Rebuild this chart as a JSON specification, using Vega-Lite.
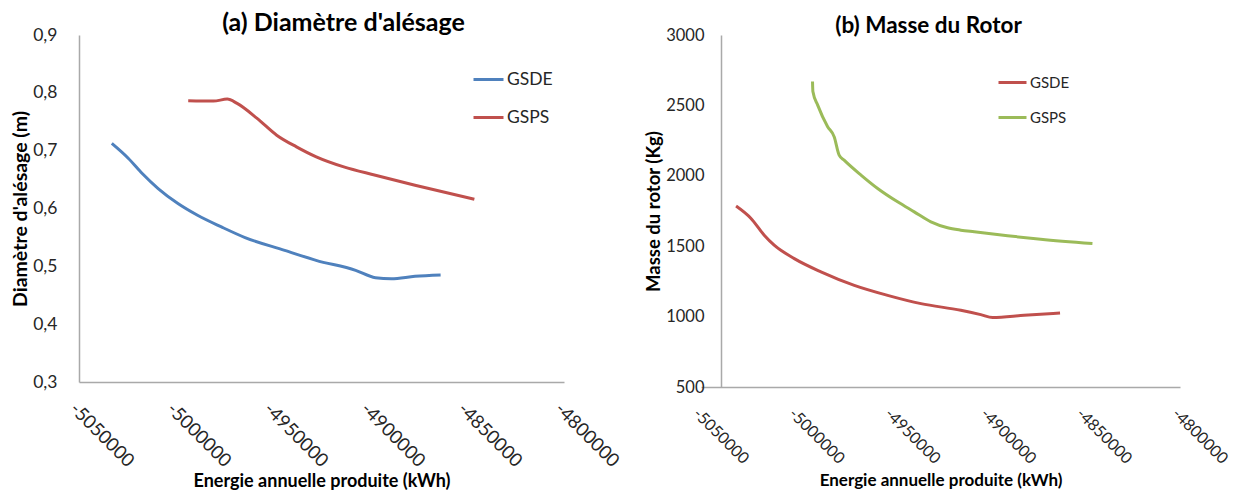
{
  "$schema": "https://vega.github.io/schema/vega-lite/v6.json",
  "background": "white",
  "padding": {"left": 10, "top": 11, "right": 0, "bottom": 0},
  "spacing": 22,
  "config": {
    "locale": {"number": {"decimal": ",", "thousands": "", "grouping": [3], "currency": ["", ""], "minus": "-"}},
    "view": {"stroke": null},
    "font": "Lato",
    "axis": {"grid": false, "ticks": false, "domainColor": "#a9a9a9", "domainWidth": 1.5, "labelColor": "#262626", "labelFont": "Lato", "titleFont": "Lato", "titleFontWeight": "bold", "titleColor": "#000000"},
    "legend": {"labelFont": "Lato", "labelColor": "#262626"},
    "title": {"font": "Lato", "fontWeight": "bold", "color": "#000000"}
  },
  "resolve": {"scale": {"color": "independent"}, "legend": {"color": "independent"}},
  "hconcat": [
    {
      "width": 485,
      "height": 347,
      "title": {"text": "(a) Diamètre d'alésage", "fontSize": 25, "dx": 22, "offset": -10},
      "data": {"values": [
        {"serie": "GSDE", "energie": -5033100, "valeur": 0.7125},
        {"serie": "GSDE", "energie": -5024500, "valeur": 0.6865},
        {"serie": "GSDE", "energie": -5017400, "valeur": 0.6605},
        {"serie": "GSDE", "energie": -5009200, "valeur": 0.6345},
        {"serie": "GSDE", "energie": -4999000, "valeur": 0.6086},
        {"serie": "GSDE", "energie": -4988900, "valeur": 0.5883},
        {"serie": "GSDE", "energie": -4976600, "valeur": 0.5681},
        {"serie": "GSDE", "energie": -4964400, "valeur": 0.5497},
        {"serie": "GSDE", "energie": -4944000, "valeur": 0.5277},
        {"serie": "GSDE", "energie": -4927800, "valeur": 0.5104},
        {"serie": "GSDE", "energie": -4907400, "valeur": 0.4931},
        {"serie": "GSDE", "energie": -4897200, "valeur": 0.4804},
        {"serie": "GSDE", "energie": -4889000, "valeur": 0.4787},
        {"serie": "GSDE", "energie": -4876800, "valeur": 0.4827},
        {"serie": "GSDE", "energie": -4863600, "valeur": 0.4849},
        {"serie": "GSPS", "energie": -4993700, "valeur": 0.7862},
        {"serie": "GSPS", "energie": -4980700, "valeur": 0.7857},
        {"serie": "GSPS", "energie": -4973600, "valeur": 0.7892},
        {"serie": "GSPS", "energie": -4968500, "valeur": 0.7817},
        {"serie": "GSPS", "energie": -4958200, "valeur": 0.7558},
        {"serie": "GSPS", "energie": -4948100, "valeur": 0.7268},
        {"serie": "GSPS", "energie": -4937900, "valeur": 0.7066},
        {"serie": "GSPS", "energie": -4927700, "valeur": 0.6893},
        {"serie": "GSPS", "energie": -4913500, "valeur": 0.6719},
        {"serie": "GSPS", "energie": -4897200, "valeur": 0.6576},
        {"serie": "GSPS", "energie": -4876800, "valeur": 0.6403},
        {"serie": "GSPS", "energie": -4846200, "valeur": 0.616}
      ]},
      "mark": {"type": "line", "strokeWidth": 3, "interpolate": "monotone"},
      "encoding": {
        "x": {"field": "energie", "type": "quantitative",
          "scale": {"domain": [-5050000, -4800000], "nice": false, "zero": false},
          "axis": {"values": [-5050000, -5000000, -4950000, -4900000, -4850000, -4800000], "labelAngle": 45, "labelAlign": "left", "labelBaseline": "top", "labelPadding": 17, "labelFontSize": 18.5, "labelOverlap": false, "labelBound": false, "labelFlush": false, "title": "Energie annuelle produite (kWh)", "titleFontSize": 18, "titlePadding": 2}},
        "y": {"field": "valeur", "type": "quantitative",
          "scale": {"domain": [0.3, 0.9], "nice": false, "zero": false},
          "axis": {"values": [0.3, 0.4, 0.5, 0.6, 0.7, 0.8, 0.9], "format": ".1f", "labelPadding": 22, "labelFontSize": 17.5, "title": "Diamètre d'alésage (m)", "titleFontSize": 19.5, "titlePadding": 2}},
        "color": {"field": "serie", "type": "nominal",
          "scale": {"domain": ["GSDE", "GSPS"], "range": ["#4F81BD", "#C0504D"]},
          "legend": {"orient": "none", "legendX": 393, "legendY": 28, "title": null, "symbolType": "stroke", "symbolSize": 900, "symbolStrokeWidth": 3, "labelFontSize": 17.5, "rowPadding": 13, "labelOffset": 2, "padding": 0}}
      }
    },
    {
      "width": 479,
      "height": 352,
      "title": {"text": "(b) Masse du Rotor", "fontSize": 22.5, "dx": -12, "offset": -10},
      "data": {"values": [
        {"serie": "GSDE", "energie": -5031700, "valeur": 1785},
        {"serie": "GSDE", "energie": -5023900, "valeur": 1697},
        {"serie": "GSDE", "energie": -5017000, "valeur": 1578},
        {"serie": "GSDE", "energie": -5011800, "valeur": 1507},
        {"serie": "GSDE", "energie": -5001300, "valeur": 1412},
        {"serie": "GSDE", "energie": -4987400, "valeur": 1318},
        {"serie": "GSDE", "energie": -4970000, "valeur": 1222},
        {"serie": "GSDE", "energie": -4952600, "valeur": 1151},
        {"serie": "GSDE", "energie": -4935200, "valeur": 1092},
        {"serie": "GSDE", "energie": -4914400, "valeur": 1045},
        {"serie": "GSDE", "energie": -4904000, "valeur": 1014},
        {"serie": "GSDE", "energie": -4897800, "valeur": 993},
        {"serie": "GSDE", "energie": -4881400, "valeur": 1009},
        {"serie": "GSDE", "energie": -4862600, "valeur": 1026},
        {"serie": "GSPS", "energie": -4991800, "valeur": 2670},
        {"serie": "GSPS", "energie": -4991600, "valeur": 2598},
        {"serie": "GSPS", "energie": -4989100, "valeur": 2502},
        {"serie": "GSPS", "energie": -4983900, "valeur": 2349},
        {"serie": "GSPS", "energie": -4980500, "valeur": 2278},
        {"serie": "GSPS", "energie": -4977900, "valeur": 2147},
        {"serie": "GSPS", "energie": -4975300, "valeur": 2111},
        {"serie": "GSPS", "energie": -4966500, "valeur": 2005},
        {"serie": "GSPS", "energie": -4957800, "valeur": 1910},
        {"serie": "GSPS", "energie": -4947400, "valeur": 1815},
        {"serie": "GSPS", "energie": -4938700, "valeur": 1744},
        {"serie": "GSPS", "energie": -4930000, "valeur": 1673},
        {"serie": "GSPS", "energie": -4921300, "valeur": 1631},
        {"serie": "GSPS", "energie": -4914400, "valeur": 1614},
        {"serie": "GSPS", "energie": -4907400, "valeur": 1602},
        {"serie": "GSPS", "energie": -4890000, "valeur": 1574},
        {"serie": "GSPS", "energie": -4872700, "valeur": 1550},
        {"serie": "GSPS", "energie": -4845700, "valeur": 1519}
      ]},
      "mark": {"type": "line", "strokeWidth": 3, "interpolate": "monotone"},
      "encoding": {
        "x": {"field": "energie", "type": "quantitative",
          "scale": {"domain": [-5050000, -4800000], "nice": false, "zero": false},
          "axis": {"values": [-5050000, -5000000, -4950000, -4900000, -4850000, -4800000], "labelAngle": 45, "labelAlign": "left", "labelBaseline": "top", "labelPadding": 18, "labelFontSize": 16, "labelOverlap": false, "labelBound": false, "labelFlush": false, "title": "Energie annuelle produite (kWh)", "titleFontSize": 17, "titlePadding": 6}},
        "y": {"field": "valeur", "type": "quantitative",
          "scale": {"domain": [500, 3000], "nice": false, "zero": false},
          "axis": {"values": [500, 1000, 1500, 2000, 2500, 3000], "offset": -20, "labelPadding": 17, "labelFontSize": 16.5, "title": "Masse du rotor (Kg)", "titleFontSize": 18.5, "titlePadding": 2}},
        "color": {"field": "serie", "type": "nominal",
          "scale": {"domain": ["GSDE", "GSPS"], "range": ["#C0504D", "#9BBB59"]},
          "legend": {"orient": "none", "legendX": 296, "legendY": 32, "title": null, "symbolType": "stroke", "symbolSize": 784, "symbolStrokeWidth": 3, "labelFontSize": 15, "rowPadding": 11, "labelOffset": 2, "padding": 0}}
      }
    }
  ]
}
